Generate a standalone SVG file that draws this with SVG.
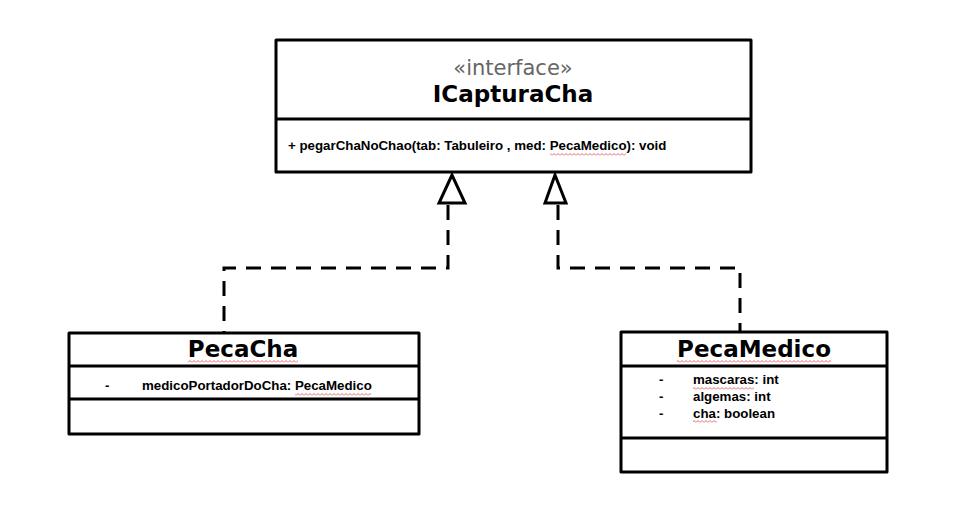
<svg xmlns="http://www.w3.org/2000/svg" width="976" height="523" viewBox="0 0 976 523">
<style>
.box{fill:#fff;stroke:#000;stroke-width:3;stroke-linejoin:round}
.div{stroke:#000;stroke-width:3}
.title{font-family:"DejaVu Sans",Verdana,sans-serif;font-weight:bold;font-size:23px;fill:#000;text-anchor:middle}
.stereo{font-family:"DejaVu Sans",Verdana,sans-serif;font-size:21px;fill:#666;text-anchor:middle}
.txt{font-family:"Liberation Sans",Arial,sans-serif;font-weight:bold;font-size:13.3px;fill:#000}
.dash{fill:none;stroke:#000;stroke-width:3;stroke-dasharray:15 10}
.head{fill:#fff;stroke:#000;stroke-width:3;stroke-linejoin:miter}
.sq{fill:url(#squig)}
</style>
<defs>
<pattern id="squig" width="4" height="3" patternUnits="userSpaceOnUse">
<path d="M0,2.5 L2,0.5 L4,2.5" fill="none" stroke="#e05555" stroke-width="0.9"/>
</pattern>
</defs>
<g id="ICapturaCha">
<rect class="box" x="276" y="40" width="475" height="132"/>
<line class="div" x1="276" y1="119" x2="751" y2="119"/>
<text class="stereo" x="513" y="75">«interface»</text>
<text class="title" x="513" y="102">ICapturaCha</text>
<text class="txt" x="288" y="150">+ pegarChaNoChao(tab: Tabuleiro , med: PecaMedico): void</text>
<rect class="sq" x="550" y="153" width="76" height="3"/>
</g>
<g id="PecaCha">
<rect class="box" x="69" y="333" width="350" height="101"/>
<line class="div" x1="69" y1="366" x2="419" y2="366"/>
<line class="div" x1="69" y1="399" x2="419" y2="399"/>
<text class="title" x="243" y="357">PecaCha</text>
<rect class="sq" x="188" y="360" width="110" height="3"/>
<text class="txt" x="105" y="390">-</text>
<text class="txt" x="142" y="390">medicoPortadorDoCha: PecaMedico</text>
<rect class="sq" x="295" y="393" width="76" height="3"/>
</g>
<g id="PecaMedico">
<rect class="box" x="621" y="332" width="266" height="140"/>
<line class="div" x1="621" y1="366" x2="887" y2="366"/>
<line class="div" x1="621" y1="438" x2="887" y2="438"/>
<text class="title" x="754" y="357">PecaMedico</text>
<rect class="sq" x="677" y="360" width="154" height="3"/>
<text class="txt" x="659" y="384">-</text>
<text class="txt" x="693" y="384">mascaras: int</text>
<rect class="sq" x="693" y="387" width="61" height="3"/>
<text class="txt" x="659" y="401">-</text>
<text class="txt" x="693" y="401">algemas: int</text>
<text class="txt" x="659" y="418">-</text>
<text class="txt" x="693" y="418">cha: boolean</text>
<rect class="sq" x="693" y="420" width="24" height="3"/>
</g>
<g id="connectors">
<path class="dash" d="M448,205 V268 H224 V332"/>
<polygon class="head" points="452,175 439,203 465,203"/>
<path class="dash" d="M558,205 V268 H740 V331"/>
<polygon class="head" points="555,175 545,203 566,203"/>
</g>
</svg>
